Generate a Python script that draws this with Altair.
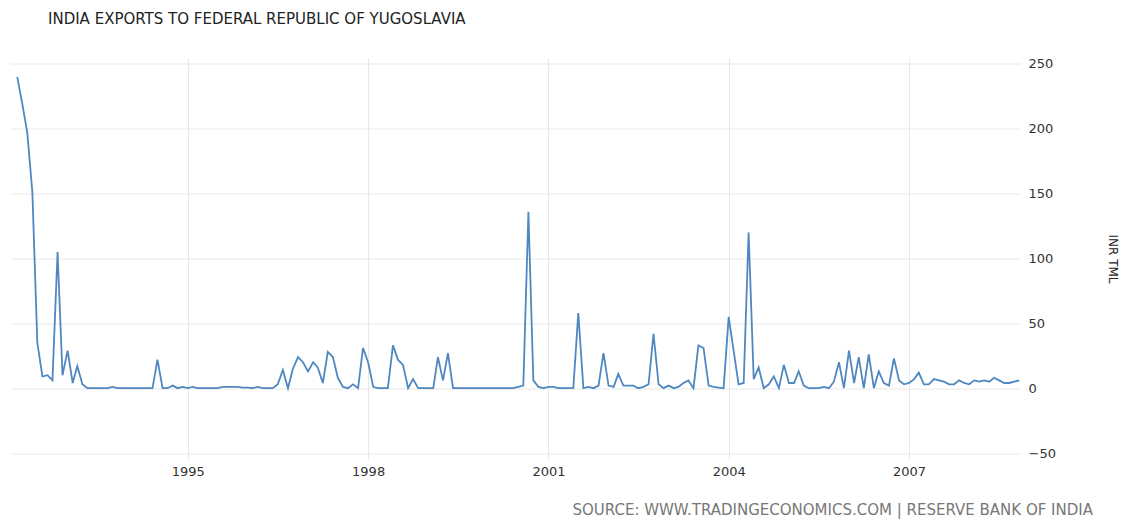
import altair as alt
import pandas as pd

# Monthly exports, INR TML, starting March 1992 (one row per calendar year)
start_month = "1992-03-01"
v1992 = [240, 219, 197, 151, 35, 9, 10, 6, 105, 10]
v1993 = [29, 4, 17, 3, 0, 0, 0, 0, 0, 1, 0, 0]
v1994 = [0, 0, 0, 0, 0, 0, 22, 0, 0, 2, 0, 1]
v1995 = [0, 1, 0, 0, 0, 0, 0, 1, 1, 1, 1, 0.5]
v1996 = [0.5, 0, 1, 0, 0, 0, 3, 14, 0, 15, 24, 20]
v1997 = [13, 20, 16, 4, 28, 24, 8, 1, 0, 3, 0, 31]
v1998 = [20, 1, 0, 0, 0, 33, 22, 18, 0, 7, 0, 0]
v1999 = [0, 0, 24, 6, 27, 0, 0, 0, 0, 0, 0, 0]
v2000 = [0, 0, 0, 0, 0, 0, 1, 2, 136, 6, 1, 0]
v2001 = [1, 1, 0, 0, 0, 0, 58, 0, 1, 0, 2, 27]
v2002 = [2, 1, 11, 2, 2, 2, 0, 1, 3, 42, 3, 0]
v2003 = [2, 0, 1, 4, 6, 0, 33, 31, 2, 1, 0.5, 0]
v2004 = [55, 28, 3, 4, 120, 7, 16, 0, 3, 9, 0, 18]
v2005 = [4, 4, 13, 2, 0, 0, 0, 1, 0, 5, 20, 0]
v2006 = [29, 4, 24, 0, 26, 0, 13, 4, 2, 23, 6, 3]
v2007 = [4, 7, 12, 3, 3, 7, 6, 5, 3, 3, 6, 4]
v2008 = [3, 6, 5, 6, 5, 8, 6, 4, 4, 5, 6]

values = (v1992 + v1993 + v1994 + v1995 + v1996 + v1997 + v1998 + v1999 + v2000
          + v2001 + v2002 + v2003 + v2004 + v2005 + v2006 + v2007 + v2008)

year_ticks = [1995, 1998, 2001, 2004, 2007]
y_ticks = [-50, 0, 50, 100, 150, 200, 250]

title_text = "INDIA EXPORTS TO FEDERAL REPUBLIC OF YUGOSLAVIA"
source_text = "SOURCE: WWW.TRADINGECONOMICS.COM | RESERVE BANK OF INDIA"
y_title = "INR TML"

dates = pd.date_range(start_month, periods=len(values), freq="MS")
df = pd.DataFrame({"date": dates, "value": values})

FONT = "DejaVu Sans"

x_enc = alt.X(
    "date:T",
    title=None,
    scale=alt.Scale(domain=[alt.DateTime(year=1992, month=1, date=17),
                            alt.DateTime(year=2008, month=11, date=5)]),
    axis=alt.Axis(
        values=[alt.DateTime(year=y, month=1, date=1) for y in year_ticks],
        format="%Y", grid=True, gridColor="#e8e8e8", domain=False, ticks=False,
        labelPadding=6, labelFont=FONT, labelFontSize=13, labelColor="#333333",
    ),
)
y_enc = alt.Y(
    "value:Q",
    scale=alt.Scale(domain=[-55, 255], nice=False, zero=False),
    axis=alt.Axis(
        orient="right", values=y_ticks, grid=True, gridColor="#e8e8e8",
        domain=False, ticks=False, labelPadding=8, labelFont=FONT,
        labelFontSize=13, labelColor="#333333",
        title=y_title, titleAngle=90, titlePadding=50, titleFont=FONT,
        titleFontSize=12, titleFontWeight="normal", titleColor="#222222",
    ),
)

line = alt.Chart(df).mark_line(color="#4f87c1", strokeWidth=1.8).encode(x=x_enc, y=y_enc)

source = alt.Chart(pd.DataFrame({"t": [source_text]})).mark_text(
    align="right", baseline="alphabetic", fontSize=15, font=FONT, color="#777777"
).encode(x=alt.value(1083), y=alt.value(457), text="t:N")

chart = alt.layer(line, source).properties(
    width=1010,
    height=402,
    padding={"left": 2, "top": 49.5, "right": 100, "bottom": 60},
    autosize=alt.AutoSizeParams(type="none"),
    title=alt.TitleParams(
        text=title_text, anchor="start", dx=38, offset=19, baseline="alphabetic",
        font=FONT, fontSize=15, fontWeight="normal", color="#222222",
    ),
).configure_view(stroke=None)

chart.save("out.html", embed_options={"renderer": "svg", "actions": False})
